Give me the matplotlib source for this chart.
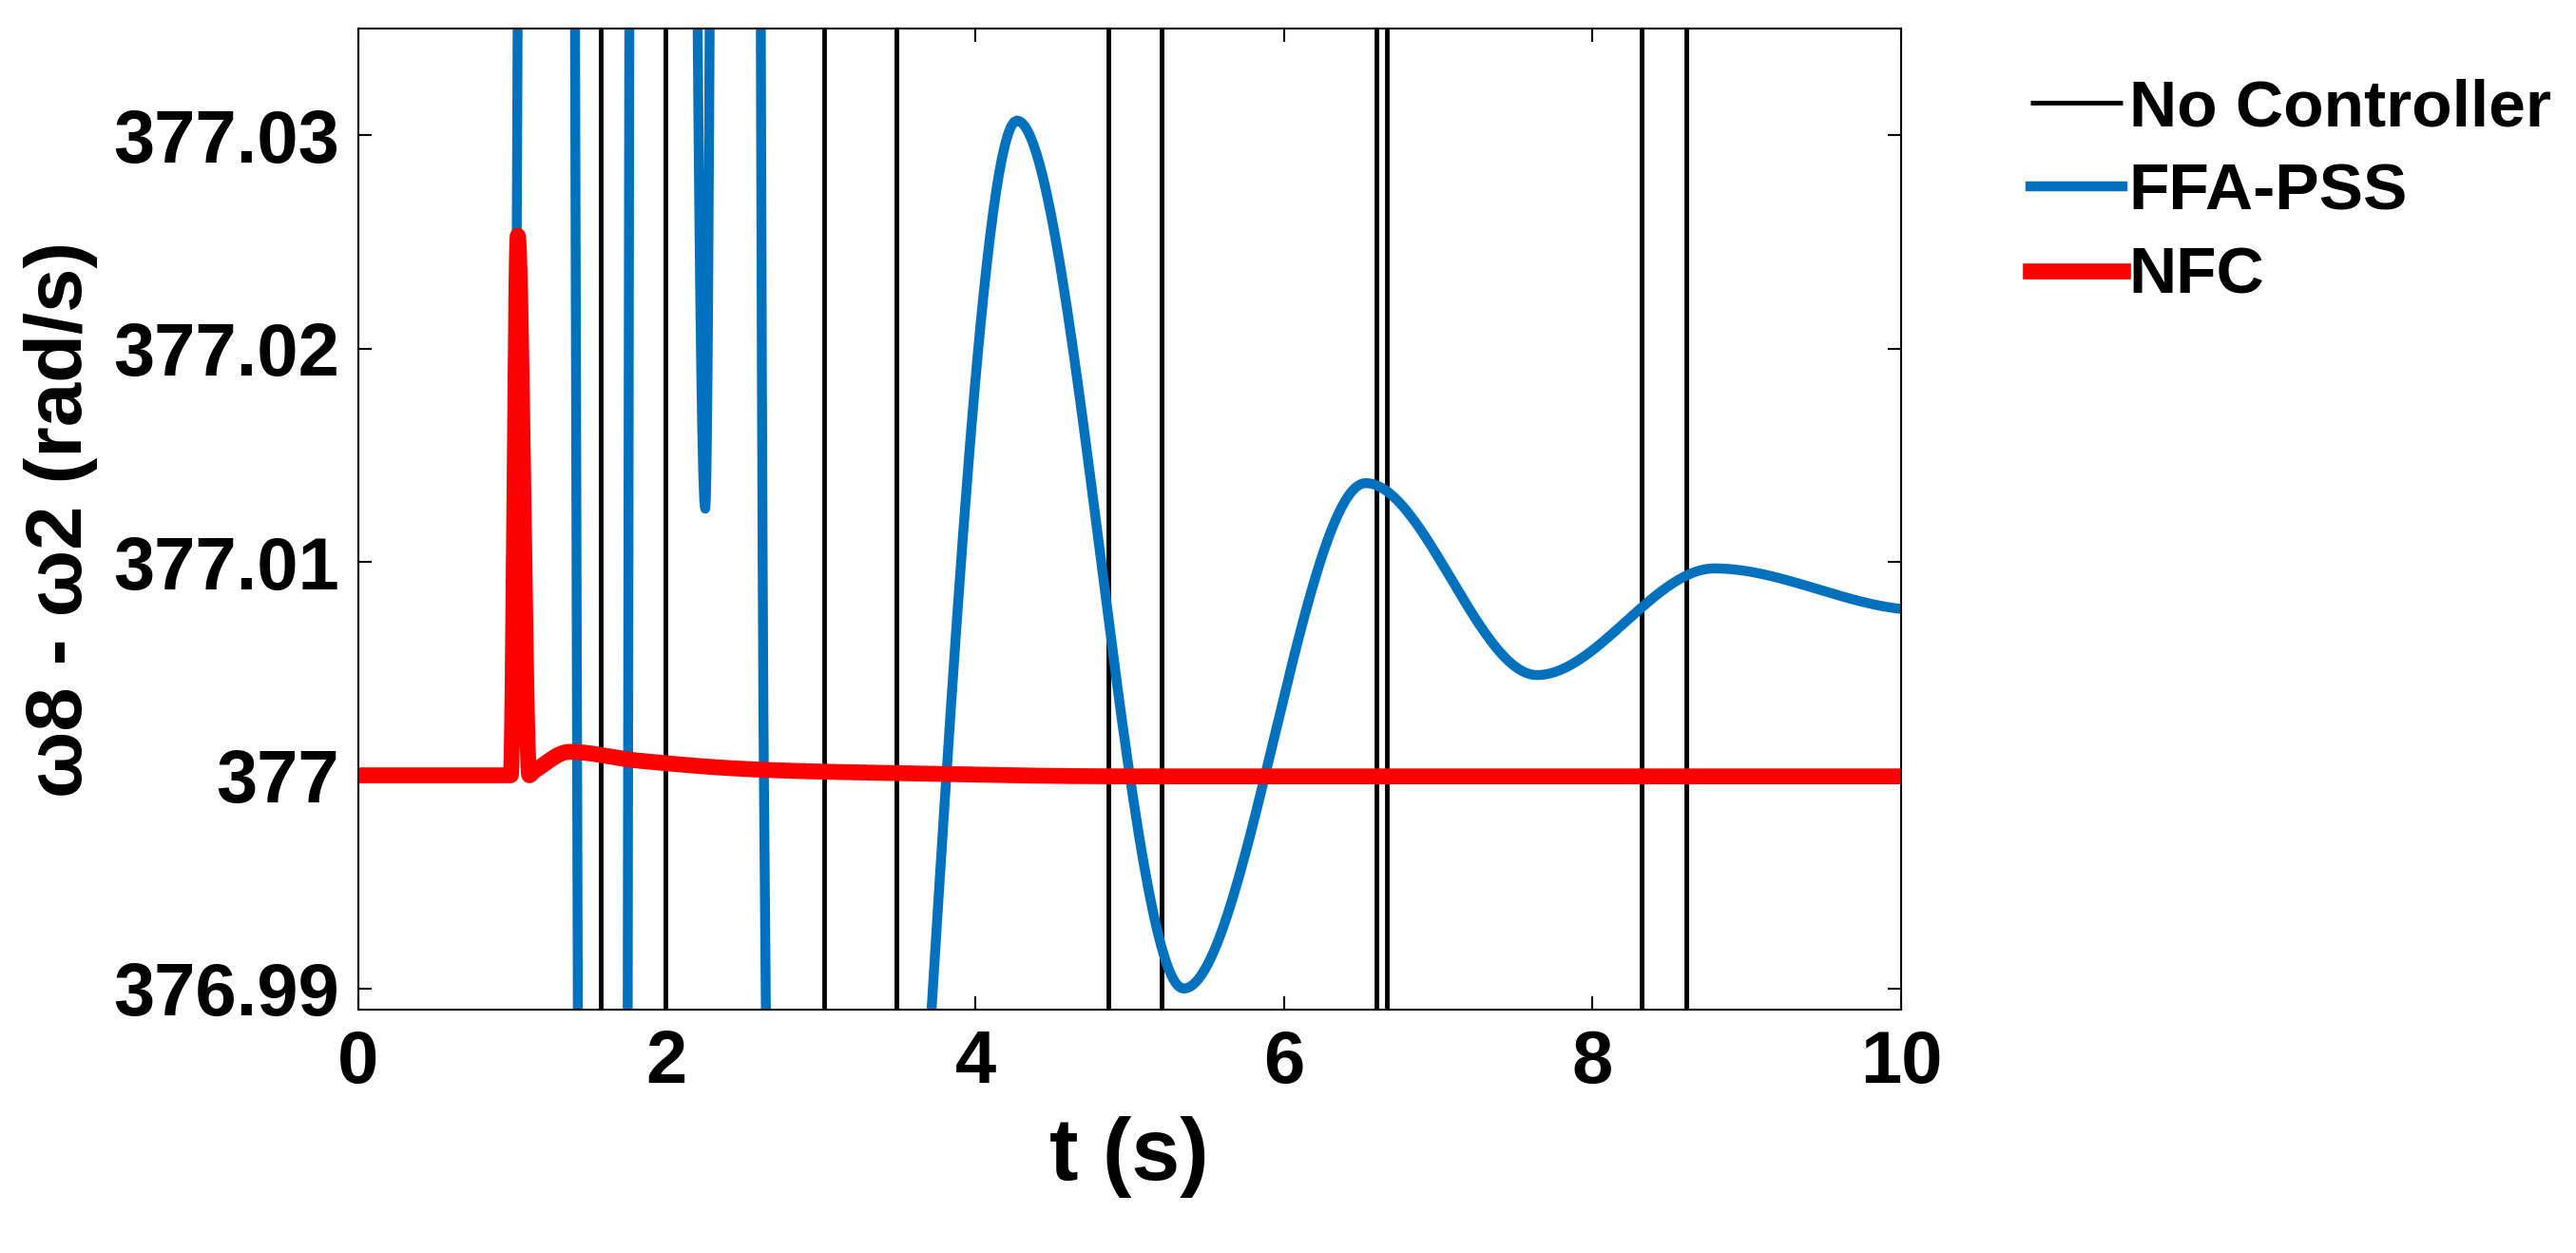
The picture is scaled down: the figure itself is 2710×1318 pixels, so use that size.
import numpy as np
import matplotlib
matplotlib.use('Agg')
import matplotlib.pyplot as plt

plt.rcParams['font.family'] = ['Liberation Sans', 'DejaVu Sans']
plt.rcParams['font.weight'] = 'bold'

# no controller: huge oscillation, only its crossings of the window are visible
nc_cross_t = [1.57, 1.99, 3.02, 3.49, 4.86, 5.21, 6.60, 6.67, 8.32, 8.61]

# FFA-PSS key points (extrema and crossings)
ffa_t = [0.0, 0.999, 1.0, 1.21, 1.42, 1.63, 1.75, 1.87, 2.25, 2.47, 2.63,
         3.10, 4.27, 5.35, 6.53, 7.64, 8.79, 10.0]
ffa_y = [377.0, 377.0, 377.0, 377.5, 377.0, 376.5, 377.0, 377.5, 377.0125,
         377.5, 377.0, 376.94, 377.0307, 376.990, 377.0137, 377.0047,
         377.0097, 377.0078]

# NFC key points
nfc_t = [0.0, 0.99, 1.035, 1.11, 1.14, 1.37, 1.8, 2.5, 3.5, 5.0, 10.0]
nfc_y = [377.0, 377.0, 377.0253, 377.0, 377.0002, 377.0011, 377.0007,
         377.0003, 377.0001, 376.99995, 376.99995]

yticks = [376.99, 377.0, 377.01, 377.02, 377.03]
ytick_labels = ['376.99', '377', '377.01', '377.02', '377.03']


def smooth(t, y, n=60):
    # cubic Hermite, flat tangents at local extrema
    t = np.asarray(t, float)
    y = np.asarray(y, float)
    m = np.zeros_like(y)
    for i in range(1, len(t) - 1):
        if (y[i] - y[i - 1]) * (y[i + 1] - y[i]) > 0:
            m[i] = (y[i + 1] - y[i - 1]) / (t[i + 1] - t[i - 1])
    m[-1] = (y[-1] - y[-2]) / (t[-1] - t[-2]) * 0.5
    xs, ys = [], []
    for i in range(len(t) - 1):
        h = t[i + 1] - t[i]
        u = np.linspace(0, 1, n, endpoint=False)
        h00 = 2 * u**3 - 3 * u**2 + 1
        h10 = u**3 - 2 * u**2 + u
        h01 = -2 * u**3 + 3 * u**2
        h11 = u**3 - u**2
        xs.append(t[i] + u * h)
        ys.append(h00 * y[i] + h10 * h * m[i] + h01 * y[i + 1] + h11 * h * m[i + 1])
    xs.append([t[-1]])
    ys.append([y[-1]])
    return np.concatenate(xs), np.concatenate(ys)


fig = plt.figure(figsize=(27.1, 13.18), dpi=100)
ax = fig.add_axes([0.139, 0.194, 0.599, 0.783])

ax.vlines(nc_cross_t, 376.0, 378.0, colors='black', linewidth=3.5,
          label='No Controller')
fx, fy = smooth(ffa_t, ffa_y)
ax.plot(fx, fy, color='#0072BD', linewidth=7.5, label='FFA-PSS')
rx, ry = smooth(nfc_t, nfc_y)
ax.plot(rx, ry, color='#FF0000', linewidth=12, label='NFC')

ax.set_xlim(0, 10)
ax.set_ylim(376.989, 377.035)
ax.set_xticks([0, 2, 4, 6, 8, 10])
ax.set_yticks(yticks)
ax.set_yticklabels(ytick_labels)
ax.tick_params(direction='in', length=10, width=1.5, labelsize=56,
               top=True, right=True, pad=14)
for s in ax.spines.values():
    s.set_linewidth(1.5)
ax.set_xlabel('t (s)', fontsize=66, fontweight='bold', labelpad=14)
ax.set_ylabel('ω8 - ω2 (rad/s)', fontsize=60, fontweight='bold', labelpad=12)

leg = fig.legend(loc='upper left', bbox_to_anchor=(0.765, 0.985), frameon=False,
                 fontsize=50, handlelength=1.4, handletextpad=0.1,
                 labelspacing=0.35)

fig.savefig('out.png', dpi=100)
